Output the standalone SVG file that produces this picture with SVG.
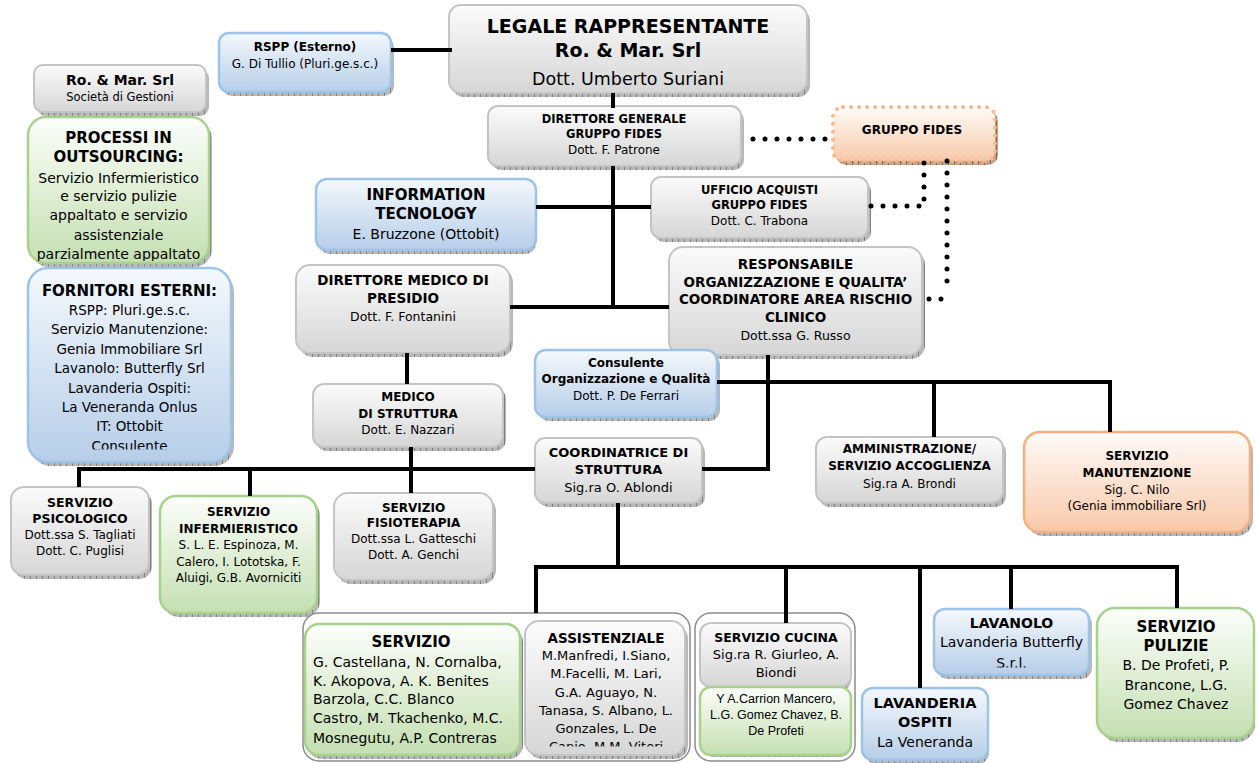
<svg xmlns="http://www.w3.org/2000/svg" width="1257" height="763" viewBox="0 0 1257 763">
<defs>
<linearGradient id="gGray" x1="0" y1="0" x2="0" y2="1"><stop offset="0" stop-color="#fbfbfb"/><stop offset="1" stop-color="#d6d6d6"/></linearGradient>
<linearGradient id="gBlue" x1="0" y1="0" x2="0" y2="1"><stop offset="0" stop-color="#f4f8fc"/><stop offset="1" stop-color="#b6cee9"/></linearGradient>
<linearGradient id="gGreen" x1="0" y1="0" x2="0" y2="1"><stop offset="0" stop-color="#fcfefb"/><stop offset="1" stop-color="#c4dfb1"/></linearGradient>
<linearGradient id="gOrange" x1="0" y1="0" x2="0" y2="1"><stop offset="0" stop-color="#fffbf8"/><stop offset="1" stop-color="#f8c9a9"/></linearGradient>
<pattern id="hatch" width="6" height="6" patternUnits="userSpaceOnUse"><rect width="6" height="6" fill="#b8b8b8"/><path d="M0.5 0V6" stroke="#808080" stroke-width="1"/></pattern>
<pattern id="hatchO" width="6" height="6" patternUnits="userSpaceOnUse"><rect width="6" height="6" fill="#c9a488"/><path d="M0.5 0V6" stroke="#8a6248" stroke-width="1"/></pattern>
<clipPath id="cpProc"><rect x="28" y="117" width="181" height="144"/></clipPath>
<clipPath id="cpForn"><rect x="28" y="268" width="203" height="181.5"/></clipPath>
<clipPath id="cpAss"><rect x="525" y="621" width="163" height="125.5"/></clipPath>
<clipPath id="cpLav"><rect x="934" y="609" width="155" height="58.5"/></clipPath>
</defs>
<style>
.g{fill:url(#gGray);stroke:#c4c4c4;stroke-width:2}
.bl{fill:url(#gBlue);stroke:#9dc3e6;stroke-width:2.5}
.gr{fill:url(#gGreen);stroke:#a9d18e;stroke-width:2.5}
.or{fill:url(#gOrange);stroke:#f4b183;stroke-width:2.5}
.sh{fill:url(#hatch)}
.ct{fill:#ffffff;stroke:#8c8c8c;stroke-width:1.5}
text{font-family:"DejaVu Sans",Verdana,sans-serif;fill:#000000;text-anchor:middle}
.b{font-weight:bold}
.l{text-anchor:start}
.ar{font-family:"Liberation Sans",Arial,sans-serif}
.c{stroke:#000000;stroke-width:4;fill:none}
.d{stroke:#000000;stroke-width:5;fill:none;stroke-linecap:round;stroke-dasharray:0 12}
</style>
<rect width="1257" height="763" fill="#ffffff"/>

<g id="n-rspp">
<rect class="sh" x="222" y="37" width="172" height="59" rx="10"/>
<rect class="bl" x="219" y="33" width="172" height="59" rx="10"/>
<text class="b" x="305" y="51" font-size="12">RSPP (Esterno)</text>
<text x="305" y="68" font-size="12">G. Di Tullio (Pluri.ge.s.c.)</text>
</g>

<g id="n-legale">
<rect class="sh" x="452" y="9" width="358" height="88" rx="12"/>
<rect class="g" x="449" y="5" width="358" height="88" rx="12"/>
<text class="b" x="628" y="33" font-size="19">LEGALE RAPPRESENTANTE</text>
<text class="b" x="628" y="57" font-size="19">Ro. &amp; Mar. Srl</text>
<text x="628" y="85" font-size="17.5">Dott. Umberto Suriani</text>
</g>

<g id="n-romar">
<rect class="sh" x="37" y="69" width="172" height="47" rx="9"/>
<rect class="g" x="34" y="65" width="172" height="47" rx="9"/>
<text class="b" x="120" y="85" font-size="14">Ro. &amp; Mar. Srl</text>
<text x="120" y="101" font-size="11.5">Società di Gestioni</text>
</g>

<g id="n-processi">
<rect class="sh" x="31" y="121" width="181" height="146" rx="18"/>
<rect class="gr" x="28" y="117" width="181" height="146" rx="18"/>
<text class="b" x="118.5" y="143" font-size="15">PROCESSI IN</text>
<text class="b" x="118.5" y="162" font-size="15">OUTSOURCING:</text>
<g clip-path="url(#cpProc)">
<text x="118.5" y="183" font-size="14">Servizio Infermieristico</text>
<text x="118.5" y="201" font-size="14">e servizio pulizie</text>
<text x="118.5" y="220" font-size="14">appaltato e servizio</text>
<text x="118.5" y="240" font-size="14">assistenziale</text>
<text x="118.5" y="259" font-size="14">parzialmente appaltato</text>
</g>
</g>

<g id="n-fornitori">
<rect class="sh" x="31" y="272" width="203" height="194" rx="20"/>
<rect class="bl" x="28" y="268" width="203" height="194" rx="20"/>
<text class="b" x="129.5" y="296" font-size="15">FORNITORI ESTERNI:</text>
<g clip-path="url(#cpForn)">
<text x="129.5" y="315" font-size="13.5">RSPP: Pluri.ge.s.c.</text>
<text x="129.5" y="334" font-size="13.5">Servizio Manutenzione:</text>
<text x="129.5" y="354" font-size="13.5">Genia Immobiliare Srl</text>
<text x="129.5" y="373" font-size="13.5">Lavanolo: Butterfly Srl</text>
<text x="129.5" y="393" font-size="13.5">Lavanderia Ospiti:</text>
<text x="129.5" y="412" font-size="13.5">La Veneranda Onlus</text>
<text x="129.5" y="431" font-size="13.5">IT: Ottobit</text>
<text x="129.5" y="451" font-size="13.5">Consulente</text>
</g>
</g>

<g id="n-dg">
<rect class="sh" x="491" y="110" width="253" height="60" rx="10"/>
<rect class="g" x="488" y="106" width="253" height="60" rx="10"/>
<text class="b" x="614" y="123" font-size="11.5">DIRETTORE GENERALE</text>
<text class="b" x="614" y="138" font-size="11.5">GRUPPO FIDES</text>
<text x="614" y="154" font-size="12">Dott. F. Patrone</text>
</g>

<g id="n-fides">
<rect fill="url(#hatchO)" x="836" y="111" width="162" height="54" rx="10"/>
<rect x="833" y="107" width="162" height="54" rx="10" fill="url(#gOrange)" stroke="#f8b88b" stroke-width="4" stroke-linecap="round" stroke-dasharray="0 8"/>
<text class="b" x="912" y="134" font-size="12">GRUPPO FIDES</text>
</g>

<g id="n-it">
<rect class="sh" x="319" y="183" width="217" height="71" rx="11"/>
<rect class="bl" x="316" y="179" width="220" height="71" rx="11"/>
<text class="b" x="426" y="200" font-size="15">INFORMATION</text>
<text class="b" x="426" y="219" font-size="15">TECNOLOGY</text>
<text x="426" y="239" font-size="14">E. Bruzzone (Ottobit)</text>
</g>

<g id="n-uff">
<rect class="sh" x="654" y="181" width="217" height="61" rx="10"/>
<rect class="g" x="651" y="177" width="217" height="61" rx="10"/>
<text class="b" x="759.5" y="194" font-size="11.5">UFFICIO ACQUISTI</text>
<text class="b" x="759.5" y="209" font-size="11.5">GRUPPO FIDES</text>
<text x="759.5" y="225" font-size="12">Dott. C. Trabona</text>
</g>

<g id="n-dmp">
<rect class="sh" x="299" y="269" width="214" height="88" rx="14"/>
<rect class="g" x="296" y="265" width="214" height="88" rx="14"/>
<text class="b" x="403" y="285" font-size="13.5">DIRETTORE MEDICO DI</text>
<text class="b" x="403" y="303" font-size="13.5">PRESIDIO</text>
<text x="403" y="321" font-size="12.5">Dott. F. Fontanini</text>
</g>

<g id="n-resp">
<rect class="sh" x="672" y="251" width="253" height="108" rx="14"/>
<rect class="g" x="669" y="247" width="253" height="108" rx="14"/>
<text class="b" x="795.5" y="269" font-size="13.5">RESPONSABILE</text>
<text class="b" x="795.5" y="287" font-size="13.5">ORGANIZZAZIONE E QUALITA’</text>
<text class="b" x="795.5" y="304" font-size="13.5">COORDINATORE AREA RISCHIO</text>
<text class="b" x="795.5" y="322" font-size="13.5">CLINICO</text>
<text x="795.5" y="340" font-size="12.5">Dott.ssa G. Russo</text>
</g>

<g id="n-cons">
<rect class="sh" x="538" y="354" width="182" height="67" rx="11"/>
<rect class="bl" x="535" y="350" width="182" height="67" rx="11"/>
<text class="b" x="626" y="367" font-size="12">Consulente</text>
<text class="b" x="626" y="383" font-size="12">Organizzazione e Qualità</text>
<text x="626" y="400" font-size="12">Dott. P. De Ferrari</text>
</g>

<g id="n-med">
<rect class="sh" x="316" y="388" width="190" height="63" rx="11"/>
<rect class="g" x="313" y="384" width="190" height="63" rx="11"/>
<text class="b" x="408" y="401" font-size="12">MEDICO</text>
<text class="b" x="408" y="418" font-size="12">DI STRUTTURA</text>
<text x="408" y="434" font-size="12">Dott. E. Nazzari</text>
</g>

<g id="n-coord">
<rect class="sh" x="538" y="442" width="167" height="65" rx="10"/>
<rect class="g" x="535" y="438" width="167" height="65" rx="10"/>
<text class="b" x="618.5" y="457" font-size="13">COORDINATRICE DI</text>
<text class="b" x="618.5" y="474" font-size="13">STRUTTURA</text>
<text x="618.5" y="492" font-size="13">Sig.ra O. Ablondi</text>
</g>

<g id="n-amm">
<rect class="sh" x="819" y="441" width="187" height="66" rx="11"/>
<rect class="g" x="816" y="437" width="187" height="66" rx="11"/>
<text class="b" x="909.5" y="453" font-size="12">AMMINISTRAZIONE/</text>
<text class="b" x="909.5" y="470" font-size="12">SERVIZIO ACCOGLIENZA</text>
<text x="909.5" y="488" font-size="12">Sig.ra A. Brondi</text>
</g>

<g id="n-man">
<rect class="sh" x="1027" y="436" width="226" height="100" rx="16"/>
<rect class="or" x="1024" y="432" width="226" height="100" rx="16"/>
<text class="b" x="1137" y="460" font-size="12">SERVIZIO</text>
<text class="b" x="1137" y="477" font-size="12">MANUTENZIONE</text>
<text x="1137" y="494" font-size="12">Sig. C. Nilo</text>
<text x="1137" y="510" font-size="12">(Genia immobiliare Srl)</text>
</g>

<g id="n-psi">
<rect class="sh" x="14" y="491" width="138" height="88" rx="13"/>
<rect class="g" x="11" y="487" width="138" height="88" rx="13"/>
<text class="b" x="80" y="507" font-size="12.5">SERVIZIO</text>
<text class="b" x="80" y="523" font-size="12.5">PSICOLOGICO</text>
<text x="80" y="539" font-size="12">Dott.ssa S. Tagliati</text>
<text x="80" y="555" font-size="12">Dott. C. Puglisi</text>
</g>

<g id="n-inf">
<rect class="sh" x="163" y="500" width="157" height="117" rx="16"/>
<rect class="gr" x="160" y="496" width="157" height="117" rx="16"/>
<text class="b" x="238.5" y="516" font-size="12">SERVIZIO</text>
<text class="b" x="238.5" y="533" font-size="12">INFERMIERISTICO</text>
<text x="238.5" y="549" font-size="12">S. L. E. Espinoza, M.</text>
<text x="238.5" y="566" font-size="12">Calero, I. Lototska, F.</text>
<text x="238.5" y="582" font-size="12">Aluigi, G.B. Avorniciti</text>
</g>

<g id="n-fis">
<rect class="sh" x="337" y="497" width="159" height="87" rx="14"/>
<rect class="g" x="334" y="493" width="159" height="87" rx="14"/>
<text class="b" x="413.5" y="512" font-size="12">SERVIZIO</text>
<text class="b" x="413.5" y="527" font-size="12">FISIOTERAPIA</text>
<text x="413.5" y="543" font-size="12">Dott.ssa L. Gatteschi</text>
<text x="413.5" y="559" font-size="12">Dott. A. Genchi</text>
</g>

<g id="grp-assistenza">
<rect class="ct" x="303" y="613" width="387" height="148" rx="16"/>
<g id="n-serv">
<rect class="sh" x="308" y="628" width="215" height="131" rx="14"/>
<rect class="gr" x="305" y="624" width="215" height="131" rx="14"/>
<text class="b" x="411" y="647" font-size="15">SERVIZIO</text>
<text class="l" x="313" y="667" font-size="14">G. Castellana, N. Cornalba,</text>
<text class="l" x="313" y="686" font-size="14">K. Akopova, A. K. Benites</text>
<text class="l" x="313" y="704" font-size="14">Barzola, C.C. Blanco</text>
<text class="l" x="313" y="723" font-size="14">Castro, M. Tkachenko, M.C.</text>
<text class="l" x="313" y="743" font-size="14">Mosnegutu, A.P. Contreras</text>
</g>
<g id="n-ass">
<rect class="sh" x="528" y="625" width="160" height="134" rx="14"/>
<rect class="g" x="525" y="621" width="160" height="134" rx="14"/>
<text class="b" x="606" y="643" font-size="13.5">ASSISTENZIALE</text>
<g clip-path="url(#cpAss)">
<text x="606" y="660" font-size="13">M.Manfredi, I.Siano,</text>
<text x="606" y="678" font-size="13">M.Facelli, M. Lari,</text>
<text x="606" y="697" font-size="13">G.A. Aguayo, N.</text>
<text x="606" y="715" font-size="13">Tanasa, S. Albano, L.</text>
<text x="606" y="733" font-size="13">Gonzales, L. De</text>
<text x="606" y="751" font-size="13">Canio, M.M. Viteri</text>
</g>
</g>
</g>

<g id="grp-cucina">
<rect class="ct" x="695" y="613" width="160" height="148" rx="16"/>
<g id="n-cucina">
<rect class="sh" x="703" y="627" width="148" height="64" rx="11"/>
<rect class="g" x="700" y="623" width="151" height="64" rx="11"/>
<text class="b" x="776" y="642" font-size="12.5">SERVIZIO CUCINA</text>
<text x="776" y="659" font-size="13">Sig.ra R. Giurleo, A.</text>
<text x="776" y="677" font-size="13">Biondi</text>
</g>
<g id="n-cucina2">
<rect class="sh" x="703" y="691" width="148" height="66" rx="11"/>
<rect class="gr" x="700" y="687" width="151" height="68" rx="11"/>
<text class="ar" x="776" y="703" font-size="12.5">Y A.Carrion Mancero,</text>
<text class="ar" x="776" y="719" font-size="12.5">L.G. Gomez Chavez, B.</text>
<text class="ar" x="776" y="735" font-size="12.5">De Profeti</text>
</g>
</g>

<g id="n-lavosp">
<rect class="sh" x="865" y="692" width="124" height="72" rx="11"/>
<rect class="bl" x="862" y="688" width="126" height="72" rx="11"/>
<text class="b" x="925" y="708" font-size="14.5">LAVANDERIA</text>
<text class="b" x="925" y="727" font-size="14.5">OSPITI</text>
<text x="925" y="747" font-size="14">La Veneranda</text>
</g>

<g id="n-lavanolo">
<rect class="sh" x="937" y="613" width="155" height="66" rx="11"/>
<rect class="bl" x="934" y="609" width="155" height="66" rx="11"/>
<text class="b" x="1011.5" y="628" font-size="14">LAVANOLO</text>
<g clip-path="url(#cpLav)">
<text x="1011.5" y="647" font-size="14">Lavanderia Butterfly</text>
<text x="1011.5" y="668" font-size="14">S.r.l.</text>
</g>
</g>

<g id="n-pulizie">
<rect class="sh" x="1100" y="612" width="155" height="130" rx="18"/>
<rect class="gr" x="1097" y="608" width="157" height="130" rx="18"/>
<text class="b" x="1176" y="632" font-size="15">SERVIZIO</text>
<text class="b" x="1176" y="651" font-size="15">PULIZIE</text>
<text x="1176" y="670" font-size="14">B. De Profeti, P.</text>
<text x="1176" y="690" font-size="14">Brancone, L.G.</text>
<text x="1176" y="709" font-size="14">Gomez Chavez</text>
</g>

<g id="connectors">
<path class="c" d="M391 50H452"/>
<path class="c" d="M613 93V108"/>
<path class="c" d="M613 166V307"/>
<path class="c" d="M536 207H651"/>
<path class="c" d="M510 307H669"/>
<path class="c" d="M407 353V384"/>
<path class="c" d="M411 447V493"/>
<path class="c" d="M79 487V469H535"/>
<path class="c" d="M250 469V496"/>
<path class="c" d="M768 355V469H702"/>
<path class="c" d="M717 382H1110V432"/>
<path class="c" d="M934 382V437"/>
<path class="c" d="M618 503V567"/>
<path class="c" d="M536 613V567H1177V608"/>
<path class="c" d="M786 567V623"/>
<path class="c" d="M920 567V688"/>
<path class="c" d="M1011 567V609"/>
<path class="d" d="M753 139H827"/>
<path class="d" d="M924 163V200"/>
<path class="d" d="M919 206H870"/>
<path class="d" d="M947 161V293"/>
<path class="d" d="M941 299H928"/>
</g>
</svg>
